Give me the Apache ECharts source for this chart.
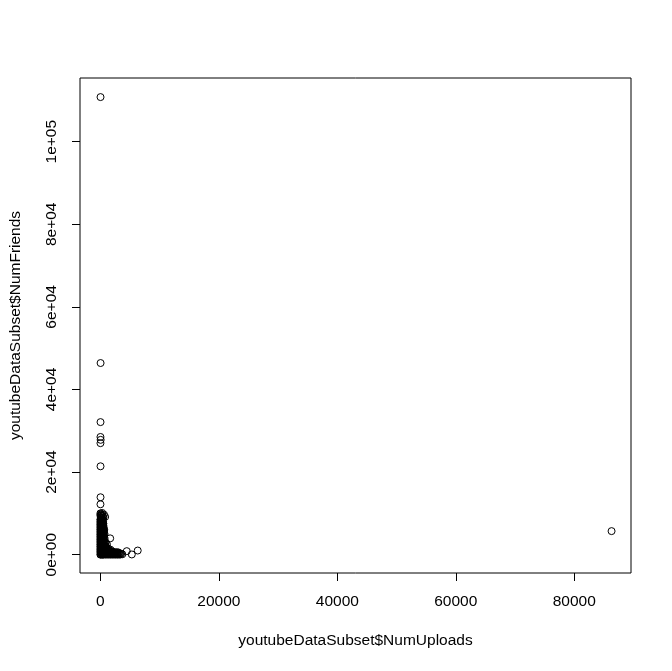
<!DOCTYPE html>
<html><head><meta charset="utf-8">
<script src="https://cdn.jsdelivr.net/npm/echarts@6/dist/echarts.min.js"></script>
<style>html,body{margin:0;padding:0;background:#fff}#c{width:672px;height:671px}</style>
</head><body><div id="c"></div>
<script>
const xTickValues = [0, 20000, 40000, 60000, 80000];
const xTickLabels = ['0', '20000', '40000', '60000', '80000'];
const yTickValues = [0, 20000, 40000, 60000, 80000, 100000];
const yTickLabels = ['0e+00', '2e+04', '4e+04', '6e+04', '8e+04', '1e+05'];
const xTitle = 'youtubeDataSubset$NumUploads';
const yTitle = 'youtubeDataSubset$NumFriends';

// [NumUploads, NumFriends]
const outlierPoints = [
  [20, 110800], [30, 46400], [20, 32100], [10, 28500], [40, 27800], [10, 27000],
  [20, 21400], [20, 13900], [10, 12200], [86300, 5700]
];
const blockTopPoints = [
  [300, 10100], [150, 9800], [600, 9700], [800, 9150], [0, 9500], [400, 9300], [100, 9000], [0, 10000],
  [200, 9500], [500, 9000], [300, 8800]
];
const columnPoints = [
  [0,0],[250,0],[500,0],[0,500],[250,500],[500,500],[0,1000],[250,1000],[500,1000],
  [0,1500],[250,1500],[500,1500],[0,2000],[250,2000],[500,2000],[0,2500],[250,2500],[500,2500],
  [0,3000],[250,3000],[500,3000],[0,3500],[250,3500],[500,3500],[0,4000],[250,4000],[500,4000],
  [0,4500],[250,4500],[500,4500],[0,5000],[250,5000],[500,5000],[0,5500],[250,5500],[500,5500],
  [0,6000],[250,6000],[500,6000],[0,6500],[250,6500],[500,6500],[0,7000],[250,7000],[500,7000],
  [0,7500],[250,7500],[500,7500],[0,8000],[250,8000],[450,8000],[0,8500],[250,8500],[400,8500],
  [700,1000],[700,2000],[700,3000],[700,4000],[700,5000],[650,6000],
  [120,250],[380,750],[120,1250],[380,1750],[120,2250],[380,2750],[120,3250],[380,3750],
  [120,4250],[380,4750],[120,5250],[380,5750],[120,6250],[380,6750],[120,7250],[380,7750],
  [120,8250],[380,250],[120,750],[380,1250],[120,1750],[380,2250],[120,2750],[380,3250],
  [120,3750],[380,4250],[120,4750],[380,5250],[120,5750],[380,6250],[120,6750],[380,7250],[120,7750]
];
const columnFillPoints = [
  [60,100],[190,400],[310,100],[440,400],[570,100],[60,700],[190,1000],[310,700],[440,1000],[570,700],
  [60,1300],[190,1600],[310,1300],[440,1600],[570,1300],[60,1900],[190,2200],[310,1900],[440,2200],[570,1900],
  [60,2500],[190,2800],[310,2500],[440,2800],[570,2500],[60,3100],[190,3400],[310,3100],[440,3400],[570,3100],
  [60,3700],[190,4000],[310,3700],[440,4000],[570,3700],[60,4300],[190,4600],[310,4300],[440,4600],[570,4300],
  [60,4900],[190,5200],[310,4900],[440,5200],[570,4900],[60,5500],[190,5800],[310,5500],[440,5800],[570,5500],
  [60,6100],[190,6400],[310,6100],[440,6400],[570,6100],[60,6700],[190,7000],[310,6700],[440,7000],[520,6700],
  [60,7300],[190,7600],[310,7300],[440,7600],[60,7900],[190,8200],[310,7900],[60,8500],[190,8800],[310,8500],
  [60,9100],[190,9400],[60,9700]
];
const slopePoints = [
  [900,1000],[1200,1000],[1500,1000],[900,1500],[1300,1500],[900,2000],[1100,2500],
  [1650,3950],[900,3000],[1100,1250],[1700,1200],[800,2500],[800,1800],[1000,1800],[800,1300]
];
const bottomPoints = [
  [900,0],[1300,0],[1700,0],[2100,0],[2500,0],[2900,0],[3300,0],[3700,100],
  [900,300],[1300,300],[1700,300],[2100,300],[2500,300],[2900,300],[3300,300],
  [900,600],[1300,600],[1700,600],[2100,600],[2500,600],[2900,600],
  [1100,800],[1600,850],[2000,800],[1100,150],[1500,450],[1900,150],[2300,450],[2700,150],[3100,450],
  [1100,450],[1500,150],[1900,450],[2300,150],[2700,450],[3100,150],[3500,200],
  [4450,850],[5300,50],[6300,1000]
];

const allPoints = outlierPoints.concat(blockTopPoints, columnPoints, columnFillPoints, slopePoints, bottomPoints);
const font = 'Liberation Sans, Arial, sans-serif';

const chart = echarts.init(document.getElementById('c'), null, {renderer: 'canvas'});
chart.setOption({
  animation: false,
  backgroundColor: '#fff',
  grid: {left: 78, top: 78, right: 41, bottom: 98, show: true, borderColor: '#000', borderWidth: 1, backgroundColor: 'transparent'},
  xAxis: {
    type: 'value', min: -3445, max: 89580,
    splitLine: {show: false},
    axisLine: {show: false, onZero: false},
    axisTick: {show: true, length: 8, customValues: xTickValues, lineStyle: {color: '#000', width: 1}},
    axisLabel: {show: true, customValues: xTickValues, margin: 21, color: '#000', fontSize: 15.5, fontFamily: font,
      formatter: v => xTickLabels[xTickValues.indexOf(v)]},
    name: xTitle, nameLocation: 'middle', nameGap: 60,
    nameTextStyle: {color: '#000', fontSize: 15.5, fontFamily: font}
  },
  yAxis: {
    type: 'value', min: -4440, max: 115420,
    splitLine: {show: false},
    axisLine: {show: false, onZero: false},
    axisTick: {show: true, length: 8, customValues: yTickValues, lineStyle: {color: '#000', width: 1}},
    axisLabel: {show: true, customValues: yTickValues, margin: 20, rotate: 90, color: '#000', fontSize: 15.5, fontFamily: font,
      formatter: v => yTickLabels[yTickValues.indexOf(v)]},
    name: yTitle, nameLocation: 'middle', nameGap: 56, nameRotate: 90,
    nameTextStyle: {color: '#000', fontSize: 15.5, fontFamily: font}
  },
  series: [{
    type: 'scatter',
    data: allPoints,
    symbol: 'circle',
    symbolSize: 7,
    itemStyle: {color: 'rgba(0,0,0,0)', borderColor: '#000', borderWidth: 1, opacity: 1},
    emphasis: {disabled: true}
  }]
});
</script>
</body></html>
